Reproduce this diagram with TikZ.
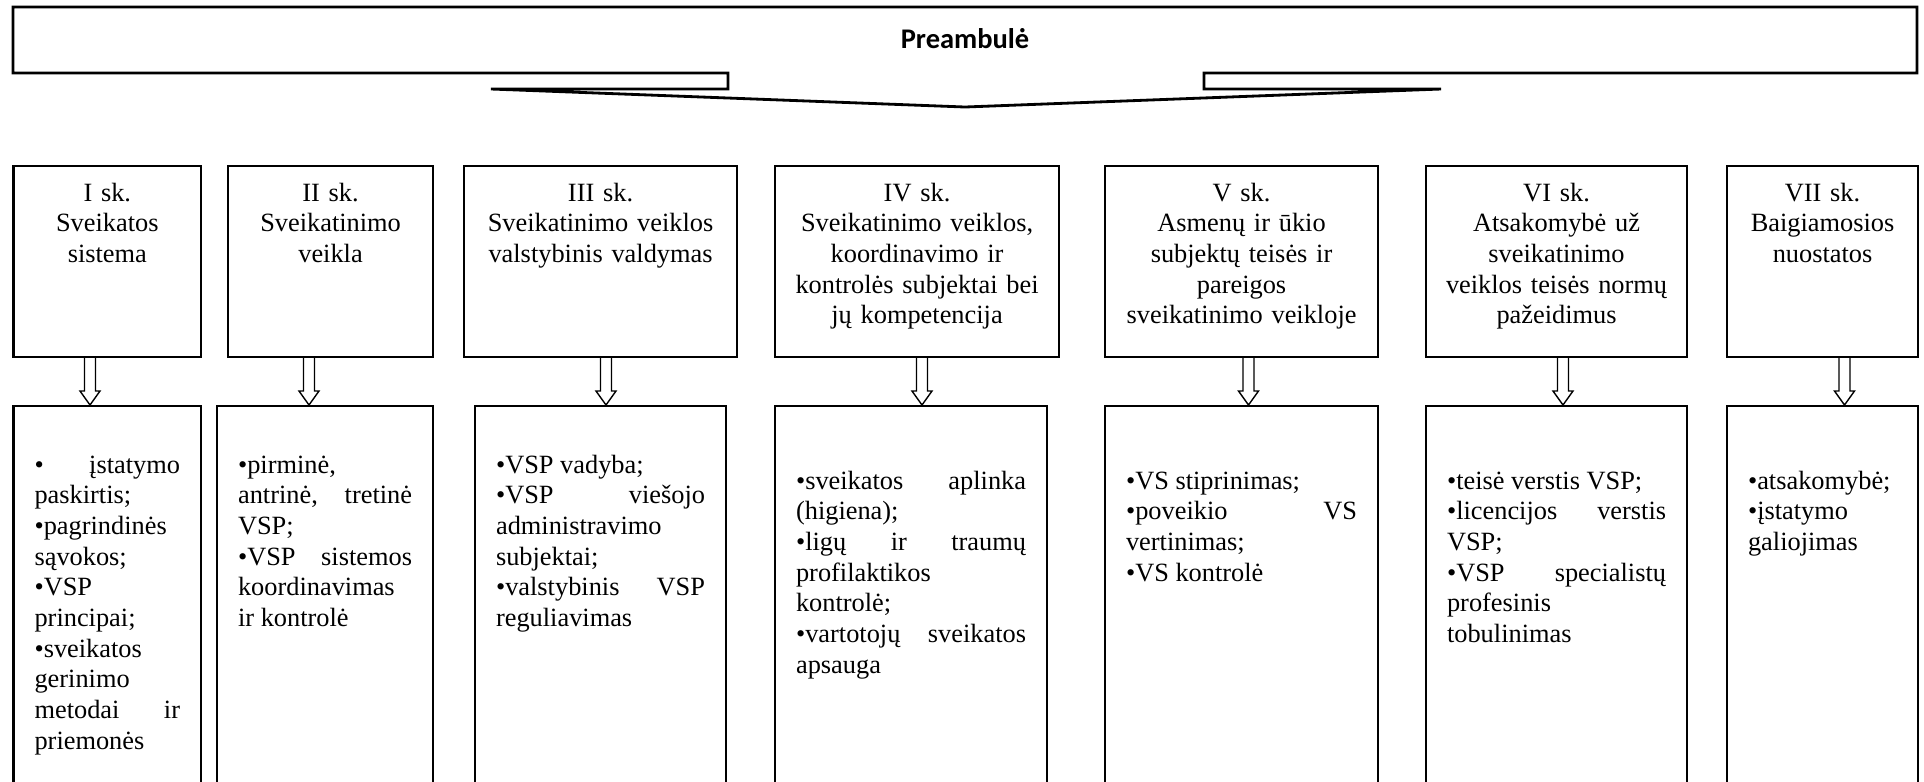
\documentclass[tikz,border=0pt]{standalone}
\usepackage{fontspec}
\setmainfont{Liberation Serif}
\newfontfamily\calibrifont{Carlito}
\usepackage{tikz}
\usetikzlibrary{calc, positioning}

\newcommand{\boxfont}{\fontsize{7.5pt}{8.73pt}\selectfont}

\begin{document}
\begin{tikzpicture}[
		chapter/.style={draw, line width=0.6pt, anchor=north west, align=center, inner xsep=1mm, inner ysep=0pt, text width=#1, text height=0.35cm, text depth=1.555cm, font=\boxfont},
		content/.style={draw, line width=0.6pt, anchor=north west, align=justify, inner xsep=2.1mm, inner ysep=0pt, text width=#1, font=\boxfont, execute at begin node={\hyphenpenalty=10000}},
		upper/.style={text height=0.67cm, text depth=3.28cm},
		lower/.style={text height=0.83cm, text depth=3.12cm},
		hollow/.style={line width=0.4pt, line join=miter, to path={
			([xshift=-0.055cm]\tikztostart) -- ([xshift=-0.055cm,yshift=0.14cm]\tikztotarget)
			-- ([xshift=-0.10cm,yshift=0.14cm]\tikztotarget) -- (\tikztotarget)
			-- ([xshift=0.10cm,yshift=0.14cm]\tikztotarget) -- ([xshift=0.055cm,yshift=0.14cm]\tikztotarget)
			-- ([xshift=0.055cm]\tikztostart)}}
		]
	\useasboundingbox (0,0) rectangle (19.24,-7.81);
	\clip (0,0) rectangle (19.24,-7.81);

		% --- Preambule (grande fleche vers le bas) ---
		\draw[line width=0.8pt, line join=miter] (0.13,-0.07) -- (19.17,-0.07) -- (19.17,-0.73) -- (12.04,-0.73) -- (12.04,-0.89) -- (14.41,-0.89) -- (9.65,-1.07) -- (4.91,-0.89) -- (7.28,-0.89) -- (7.28,-0.73) -- (0.13,-0.73) -- cycle;
		\node[font=\calibrifont\bfseries\fontsize{8.1pt}{9pt}\selectfont] (pre) at (9.65,-0.385) {Preambulė};

		% --- Skyriai ---
		\node[chapter=1.675cm] (h1) at (0.125,-1.65) {I sk.\\Sveikatos\\sistema};
		\node[chapter=1.85cm] (h2) at (2.27,-1.65) {II sk.\\Sveikatinimo\\veikla};
		\node[chapter=2.53cm] (h3) at (4.63,-1.65) {III sk.\\Sveikatinimo veiklos\\valstybinis valdymas};
		\node[chapter=2.64cm] (h4) at (7.74,-1.65) {IV sk.\\Sveikatinimo veiklos,\\koordinavimo ir\\kontrolės subjektai bei\\jų kompetencija};
		\node[chapter=2.53cm] (h5) at (11.04,-1.65) {V sk.\\Asmenų ir ūkio\\subjektų teisės ir\\pareigos\\sveikatinimo veikloje};
		\node[chapter=2.41cm] (h6) at (14.25,-1.65) {VI sk.\\Atsakomybė už\\sveikatinimo\\veiklos teisės normų\\pažeidimus};
		\node[chapter=1.71cm] (h7) at (17.26,-1.65) {VII sk.\\Baigiamosios\\nuostatos};

		% --- Turinys ---
		\node[content=1.455cm, upper] (b1) at (0.125,-4.05) {• įstatymo\linebreak paskirtis;\par •pagrindinės\newline sąvokos;\par •VSP\newline principai;\par •sveikatos\newline gerinimo\newline metodai ir\linebreak priemonės};
		\node[content=1.74cm, upper] (b2) at (2.16,-4.05) {•pirminė,\newline antrinė, tretinė\linebreak VSP;\par •VSP sistemos\linebreak koordinavimas\newline ir kontrolė};
		\node[content=2.09cm, upper] (b3) at (4.74,-4.05) {•VSP vadyba;\par •VSP viešojo\linebreak administravimo\newline subjektai;\par •valstybinis VSP\linebreak reguliavimas};
		\node[content=2.30cm, lower] (b4) at (7.74,-4.05) {•sveikatos aplinka\linebreak (higiena);\par •ligų ir traumų\linebreak profilaktikos\newline kontrolė;\par •vartotojų sveikatos\linebreak apsauga};
		\node[content=2.31cm, lower] (b5) at (11.04,-4.05) {•VS stiprinimas;\par •poveikio VS\linebreak vertinimas;\par •VS kontrolė};
		\node[content=2.19cm, lower] (b6) at (14.25,-4.05) {•teisė verstis VSP;\par •licencijos verstis\linebreak VSP;\par •VSP specialistų\linebreak profesinis\newline tobulinimas};
		\node[content=1.49cm, lower] (b7) at (17.26,-4.05) {•atsakomybė;\par •įstatymo\newline galiojimas};

		% --- Rodyklės ---
		\foreach \i/\x in {1/0.90, 2/3.09, 3/6.06, 4/9.22, 5/12.485, 6/15.63, 7/18.445}
			\draw[hollow] (\x,0 |- h\i.south) to (\x,0 |- b\i.north);

	\end{tikzpicture}
\end{document}
